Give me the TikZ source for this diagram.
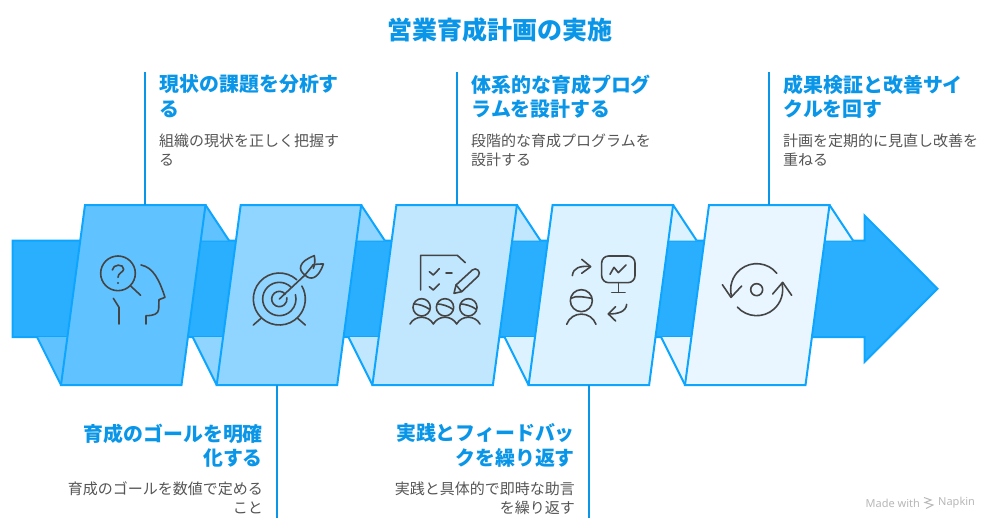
\documentclass[tikz,border=0pt]{standalone}
\usepackage{fontspec}
\setmainfont{Noto Sans CJK JP}
\newfontfamily\latinfont{Noto Sans}
\definecolor{linec}{HTML}{0EA5FF}
\definecolor{barc}{HTML}{2AAFFF}
\definecolor{leadc}{HTML}{0A96E8}
\definecolor{panA}{HTML}{60C3FF}
\definecolor{panB}{HTML}{90D5FF}
\definecolor{panC}{HTML}{C1E7FF}
\definecolor{panD}{HTML}{DCF2FF}
\definecolor{panE}{HTML}{E9F6FF}
\definecolor{iconc}{HTML}{444444}
\definecolor{bodyc}{HTML}{555555}
\definecolor{markc}{HTML}{B8B8B8}
\tikzset{
 shapeline/.style={draw=linec,line width=2pt,line join=miter},
 lead/.style={draw=leadc,line width=1.6pt},
 ico/.style={draw=iconc,line width=1.6pt,line cap=round,line join=round},
 head/.style={inner sep=0pt,text=leadc,font=\fontsize{19.9}{24.5}\selectfont\bfseries},
 body/.style={inner sep=0pt,text=bodyc,font=\fontsize{15}{19}\selectfont},
 panel/.style={shapeline,fill=#1},
}
\newcommand{\panelat}[2]{%
 \fill[#2] (#1+120.5,205) -- (#1+144,240.5) -- (#1+115,240.5) -- cycle;
 \draw[shapeline] (#1+120.5,205) -- (#1+144,240.5);
 \fill[#2] (#1-48,337) -- (#1-24,385) -- (#1-18,337) -- cycle;
 \draw[shapeline] (#1-48,337) -- (#1-24,385);
 \draw[panel=#2] (#1,205) -- (#1+120.5,205) -- (#1+96.5,385) -- (#1-24,385) -- cycle;
}
\begin{document}
\begin{tikzpicture}[x=1pt,y=-1pt]
\useasboundingbox (0,0) rectangle (998,530);
\fill[white] (0,0) rectangle (998,530);
\node[inner sep=0pt,text=leadc,font=\fontsize{25}{28}\selectfont\bfseries] (title) at (499.5,30) {営業育成計画の実施};
% arrow
\draw[shapeline,fill=barc] (12.5,240.5) -- (864.5,240.5) -- (864.5,215.5) -- (937.5,288.7) -- (864.5,362) -- (864.5,337) -- (12.5,337) -- cycle;
\panelat{85}{panA}
\panelat{240.7}{panB}
\panelat{396.4}{panC}
\panelat{552.6}{panD}
\panelat{709}{panE}
% leaders
\coordinate (t1a) at (145,72); \coordinate (t1b) at (145,205);
\coordinate (t3a) at (457,72); \coordinate (t3b) at (457,205);
\coordinate (t5a) at (769,72); \coordinate (t5b) at (769,205);
\coordinate (b2a) at (277,385); \coordinate (b2b) at (277,518);
\coordinate (b4a) at (589,385); \coordinate (b4b) at (589,518);
\draw[lead] (t1a) -- (t1b);
\draw[lead] (t3a) -- (t3b);
\draw[lead] (t5a) -- (t5b);
\draw[lead] (b2a) -- (b2b);
\draw[lead] (b4a) -- (b4b);
% text
\node[head,align=left,anchor=north west] (h1) at (159.5,74.5) {現状の課題を分析す\\る};
\node[body,align=left,anchor=north west] (d1) at (159,133.7) {組織の現状を正しく把握す\\る};
\node[head,align=left,anchor=north west] (h3) at (471.5,74.5) {体系的な育成プログ\\ラムを設計する};
\node[body,align=left,anchor=north west] (d3) at (471,133.7) {段階的な育成プログラムを\\設計する};
\node[head,align=left,anchor=north west] (h5) at (783.5,74.5) {成果検証と改善サイ\\クルを回す};
\node[body,align=left,anchor=north west] (d5) at (783,133.7) {計画を定期的に見直し改善を\\重ねる};
\node[head,align=right,anchor=north east] (h2) at (263,423.5) {育成のゴールを明確\\化する};
\node[body,align=right,anchor=north east] (d2) at (263,481.7) {育成のゴールを数値で定める\\こと};
\node[head,align=right,anchor=north east] (h4) at (575,423.5) {実践とフィードバッ\\クを繰り返す};
\node[body,align=right,anchor=north east] (d4) at (575,481.7) {実践と具体的で即時な助言\\を繰り返す};
% icon 1
\begin{scope}[xshift=0pt,yshift=-190pt,scale=1/3]
\draw[ico] (354,250) circle (52);
\draw[ico] (337,240) .. controls (338,222) and (372,220) .. (371,238) .. controls (370,247) and (354,248) .. (354,262);
\fill[iconc] (354,279) circle (3.5);
\draw[ico] (392,288) -- (422,316);
\draw[ico] (423,225) .. controls (460,232) and (478,270) .. (495,322) -- (477,329) -- (476,358) .. controls (474,372) and (462,377) .. (438,377) -- (438,402);
\draw[ico] (340,325) -- (357,352) -- (357,402);
\end{scope}
% icon 2
\begin{scope}[xshift=0pt,yshift=-190pt,scale=1/3]
\draw[ico] (838,327) ++(-48:78) arc (-48:-390:78);
\draw[ico] (838,327) ++(-45:50) arc (-45:-375:50);
\draw[ico] (838,327) ++(-40:23) arc (-40:-370:23);
\draw[ico] (838,327) -- (915,255);
\draw[ico] (783,385) -- (760,405);
\draw[ico] (893,385) -- (916,405);
\draw[ico] (915,255) .. controls (893,240) and (895,215) .. (943,197) .. controls (946,212) and (944,225) .. (940,235);
\draw[ico] (915,255) .. controls (930,272) and (955,268) .. (970,222) .. controls (960,222) and (950,222) .. (940,224);
\draw[ico] (915,255) -- (940,224);
\end{scope}
% icon 3
\begin{scope}[xshift=360pt,yshift=-190pt,scale=1/3]
\draw[ico] (182,300) -- (182,196) -- (292,196) -- (316,218);
\draw[ico] (208,245) -- (220,255) -- (238,236);
\draw[ico] (208,290) -- (220,300) -- (238,282);
\draw[ico] (258,249) -- (276,249);
\draw[ico] (282,310) -- (288,285) -- (337,240) .. controls (348,230) and (365,245) .. (355,258) -- (305,305) -- cycle;
\draw[ico] (288,285) -- (305,305);
\foreach \cx in {185,255,325}{
 \draw[ico] (\cx,352) circle (26);
 \draw[ico] (\cx-23,342) .. controls (\cx-10,342) and (\cx+10,348) .. (\cx+24,358);
}
\draw[ico] (150,402) .. controls (165,375) and (205,375) .. (220,402) .. controls (235,375) and (275,375) .. (290,402) .. controls (305,375) and (345,375) .. (360,402);
\end{scope}
% icon 4
\begin{scope}[xshift=360pt,yshift=-190pt,scale=1/3]
\draw[ico,rounded corners=7] (725,198) rectangle (825,278);
\draw[ico] (750,253) -- (762,232) -- (775,248) -- (798,225);
\draw[ico] (775,278) -- (775,307);
\draw[ico] (755,307) -- (795,307);
\draw[ico] (637,257) .. controls (640,232) and (660,228) .. (690,229);
\draw[ico] (665,208) -- (692,230) -- (665,250);
\draw[ico] (664,332) circle (33);
\draw[ico] (632,325) .. controls (650,315) and (675,322) .. (695,325);
\draw[ico] (620,403) .. controls (635,362) and (693,362) .. (708,403);
\draw[ico] (800,343) .. controls (798,365) and (775,372) .. (745,372);
\draw[ico] (767,350) -- (745,372) -- (767,393);
\end{scope}
% icon 5
\begin{scope}[xshift=660pt,yshift=-190pt,scale=1/3]
\draw[ico] (290,299) circle (18);
\draw[ico] (290,299) ++(-39:78) arc (-39:-196:78);
\draw[ico] (187,284) -- (213,322) -- (245,288);
\draw[ico] (290,299) ++(-222:78) arc (-222:-374:78);
\draw[ico] (338,312) -- (368,277) -- (395,316);
\end{scope}
% mark
\node[inner sep=0pt,anchor=west,text=markc,font=\latinfont\fontsize{11}{12}\selectfont] (made) at (865.5,503) {Made with};
\node[inner sep=0pt,anchor=west,text=markc,font=\latinfont\fontsize{11}{12}\selectfont] (napkin) at (938,503) {Napkin};
\draw[markc,line width=1pt] (924,497.5) -- (931,500) -- (925,502.5) -- (933,505) -- (926,508.5);
\end{tikzpicture}
\end{document}
